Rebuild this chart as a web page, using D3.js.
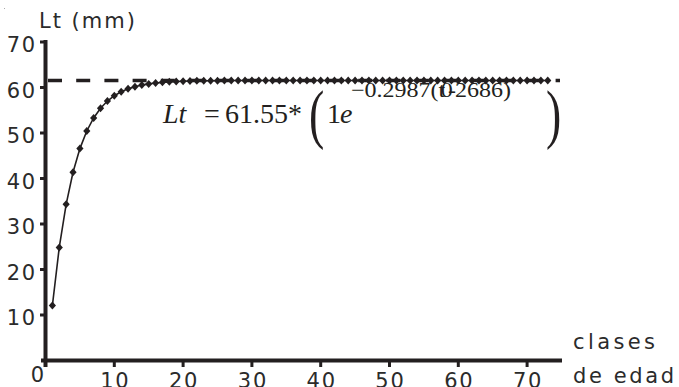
<!DOCTYPE html>
<html>
<head>
<meta charset="utf-8">
<script src="https://cdn.jsdelivr.net/npm/d3@7"></script>
<style>
  html, body { margin: 0; padding: 0; background: #ffffff; }
  svg { display: block; }
</style>
</head>
<body>
<svg id="chart" width="679" height="387"></svg>
<script>
// ---- data ----
const ages = [1,2,3,4,5,6,7,8,9,10,11,12,13,14,15,16,17,18,19,20,
  21,22,23,24,25,26,27,28,29,30,31,32,33,34,35,36,37,38,39,40,
  41,42,43,44,45,46,47,48,49,50,51,52,53,54,55,56,57,58,59,60,
  61,62,63,64,65,66,67,68,69,70,71,72,73];
const lengths = [12.08,24.85,34.33,41.36,46.57,50.44,53.31,55.44,57.02,58.19,
  59.05,59.70,60.18,60.53,60.79,60.99,61.13,61.24,61.32,61.38,
  61.42,61.46,61.48,61.50,61.51,61.52,61.53,61.54,61.54,61.55,
  61.55,61.55,61.55,61.55,61.55,61.55,61.55,61.55,61.55,61.55,
  61.55,61.55,61.55,61.55,61.55,61.55,61.55,61.55,61.55,61.55,
  61.55,61.55,61.55,61.55,61.55,61.55,61.55,61.55,61.55,61.55,
  61.55,61.55,61.55,61.55,61.55,61.55,61.55,61.55,61.55,61.55,
  61.55,61.55,61.55];
const asymptote = 61.55;
const xTicks = [10,20,30,40,50,60,70];
const yTicks = [10,20,30,40,50,60,70];
const yTitle = "Lt (mm)";
const xTitle = ["clases", "de edad"];

// ---- drawing ----
const ink = "#231f20";
const textInk = "#2b2b2b";
const svg = d3.select("#chart");
const x = d3.scaleLinear().domain([0, 75]).range([45.5, 561.5]);
const y = d3.scaleLinear().domain([0, 70]).range([360.5, 42]);

const sansFont = "'DejaVu Sans', sans-serif";
const serifFont = "'Liberation Serif', 'Times New Roman', serif";

// stray dot top-left
svg.append("rect").attr("x", 4).attr("y", 8).attr("width", 1).attr("height", 1).attr("fill", "#aaa");

// axes lines
svg.append("line").attr("x1", x(0)).attr("x2", x(0)).attr("y1", 40).attr("y2", 367)
  .attr("stroke", ink).attr("stroke-width", 4);
svg.append("line").attr("x1", 41).attr("x2", 562).attr("y1", y(0)).attr("y2", y(0))
  .attr("stroke", ink).attr("stroke-width", 4.2);

// y ticks
svg.selectAll(".ytick").data(yTicks).enter().append("line")
  .attr("x1", 40).attr("x2", x(0)).attr("y1", d => y(d)).attr("y2", d => y(d))
  .attr("stroke", ink).attr("stroke-width", 3);
svg.selectAll(".ylab").data(yTicks).enter().append("text")
  .attr("x", 37).attr("y", d => y(d) + 10)
  .attr("text-anchor", "end")
  .attr("font-family", sansFont).attr("font-size", 21).attr("letter-spacing", 1.8)
  .attr("fill", textInk).text(d => d);

// x ticks
svg.selectAll(".xtick").data(xTicks).enter().append("line")
  .attr("x1", d => x(d)).attr("x2", d => x(d)).attr("y1", y(0)).attr("y2", 367)
  .attr("stroke", ink).attr("stroke-width", 3);
svg.selectAll(".xlab").data(xTicks).enter().append("text")
  .attr("x", d => x(d) + 1).attr("y", 388)
  .attr("text-anchor", "middle")
  .attr("font-family", sansFont).attr("font-size", 21).attr("letter-spacing", 1.8)
  .attr("fill", textInk).text(d => d);
// origin label
svg.append("text").attr("x", 37.5).attr("y", 382).attr("text-anchor", "middle")
  .attr("font-family", sansFont).attr("font-size", 21).attr("fill", textInk).text("0");

// axis titles
svg.append("text").attr("x", 39).attr("y", 28)
  .attr("font-family", sansFont).attr("font-size", 21).attr("letter-spacing", 2)
  .attr("fill", textInk).text(yTitle);
svg.append("text").attr("x", 573).attr("y", 349)
  .attr("font-family", sansFont).attr("font-size", 21).attr("letter-spacing", 3.4)
  .attr("fill", textInk).text(xTitle[0]);
svg.append("text").attr("x", 573).attr("y", 383)
  .attr("font-family", sansFont).attr("font-size", 21).attr("letter-spacing", 2.6)
  .attr("fill", textInk).text(xTitle[1]);

// dashed asymptote
svg.append("line").attr("x1", 48).attr("x2", 560)
  .attr("y1", y(asymptote)).attr("y2", y(asymptote))
  .attr("stroke", ink).attr("stroke-width", 3.6).attr("stroke-dasharray", "14,14.2");

// growth line
const pts = ages.map((a, i) => [a, lengths[i]]);
svg.append("path").datum(pts)
  .attr("d", d3.line().x(d => x(d[0])).y(d => y(d[1])))
  .attr("fill", "none").attr("stroke", ink).attr("stroke-width", 1.6);

// diamond markers
const dw = 3.6, dh = 4;
svg.selectAll(".mk").data(pts).enter().append("path")
  .attr("transform", d => `translate(${x(d[0])},${y(d[1])})`)
  .attr("d", `M0,${-dh}L${dw},0L0,${dh}L${-dw},0Z`)
  .attr("fill", ink);

// equation
const eq = svg.append("g").attr("fill", ink).attr("font-family", serifFont);
eq.append("text").attr("x", 163).attr("y", 123).attr("font-size", 28).attr("font-style", "italic").text("Lt");
eq.append("text").attr("x", 204).attr("y", 123).attr("font-size", 28).text("=");
eq.append("text").attr("x", 225).attr("y", 123).attr("font-size", 28).text("61.55*");
eq.append("text").attr("transform", "translate(309,136) scale(1.35,1.95)")
  .attr("font-size", 34).text("(");
eq.append("text").attr("x", 327).attr("y", 123).attr("font-size", 28).text("1");
eq.append("text").attr("x", 340).attr("y", 123).attr("font-size", 28).attr("font-style", "italic").text("e");
const ex = eq.append("text").attr("x", 351).attr("y", 97).attr("font-size", 21)
  .attr("textLength", 160).attr("lengthAdjust", "spacingAndGlyphs");
ex.append("tspan").text("\u22120.2987(");
ex.append("tspan").text("t");
ex.append("tspan").attr("dx", -4).text("0");
ex.append("tspan").attr("dx", -4).text("-");
ex.append("tspan").attr("dx", -1).text("2686)");
eq.append("text").attr("transform", "translate(546,136) scale(1.35,1.95)")
  .attr("font-size", 34).text(")");
</script>
</body>
</html>
